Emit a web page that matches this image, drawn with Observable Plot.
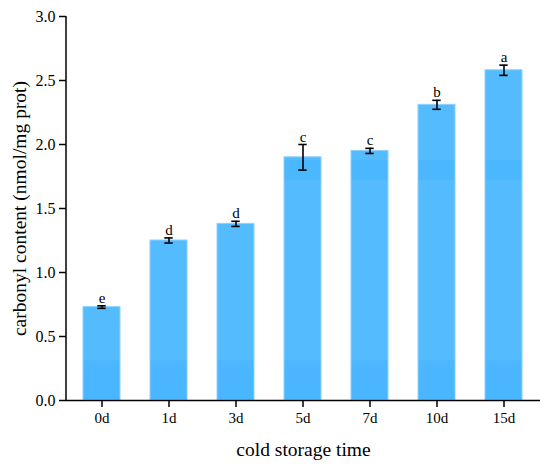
<!DOCTYPE html>
<html><head><meta charset="utf-8">
<script src="https://cdn.jsdelivr.net/npm/d3@7"></script>
<script src="https://cdn.jsdelivr.net/npm/@observablehq/plot@0.6"></script>
<style>body{margin:0;background:#fff}</style>
</head><body><div id="chart"></div>
<script>
const categories = ["0d","1d","3d","5d","7d","10d","15d"];
const values = [0.73,1.25,1.38,1.90,1.95,2.31,2.58];
const errors = [0.01,0.02,0.02,0.10,0.02,0.035,0.04];
const letters = ["e","d","d","c","c","b","a"];
const yTicks = [0,0.5,1.0,1.5,2.0,2.5,3.0];
const data = categories.map((c,i)=>({cat:c, value:values[i], err:errors[i], letter:letters[i]}));

function decor(index, scales, vals, dims) {
  const g = d3.create("svg:g");
  const top = dims.marginTop, bottom = dims.height - dims.marginBottom, left = dims.marginLeft;
  const grad = g.append("defs").append("linearGradient")
    .attr("id","barGrad").attr("gradientUnits","userSpaceOnUse")
    .attr("x1",0).attr("x2",0).attr("y1",top).attr("y2",bottom);
  const stops = [[0,"#54bbff"],[0.375,"#54bbff"],[0.375,"#4ab7ff"],[0.427,"#4ab7ff"],[0.427,"#54bbff"],
                 [0.896,"#54bbff"],[0.896,"#4db8ff"],[0.93,"#4ab6ff"],[1,"#4ab6ff"]];
  stops.forEach(([o,c]) => grad.append("stop").attr("offset",o).attr("stop-color",c));
  g.append("line").attr("x1",left).attr("x2",left).attr("y1",top).attr("y2",bottom+0.75)
    .attr("stroke","#000").attr("stroke-width",1.5);
  return g.node();
}

const chart = Plot.plot({
  width: 550,
  height: 469,
  marginLeft: 66,
  marginRight: 10,
  marginTop: 16,
  marginBottom: 69,
  style: {fontFamily: "'Liberation Serif', 'Times New Roman', serif", fontSize: "15px", color: "#000", background: "#fff"},
  x: {domain: categories, paddingInner: 0.445, paddingOuter: 0.2225, label: null},
  y: {domain: [0, 3], label: null},
  marks: [
    decor,
    Plot.barY(data, {x: "cat", y: "value", fill: "url(#barGrad)", stroke: "#8ed2ff", strokeWidth: 1}),
    Plot.ruleX(data, {x: "cat", y1: d => d.value - d.err, y2: d => d.value + d.err, stroke: "#000", strokeWidth: 1.6}),
    Plot.tickY(data, {x: "cat", y: d => d.value - d.err, stroke: "#000", strokeWidth: 1.6, inset: 14.3}),
    Plot.tickY(data, {x: "cat", y: d => d.value + d.err, stroke: "#000", strokeWidth: 1.6, inset: 14.3}),
    Plot.text(data, {x: "cat", y: d => d.value + d.err, text: "letter", dy: -3, lineAnchor: "bottom", fontSize: 15, fill: "#000"}),
    Plot.ruleY([0], {stroke: "#000", strokeWidth: 1.5}),
    Plot.axisY({ticks: yTicks, tickFormat: d3.format(".1f"), tickSize: 7, tickPadding: 4, fontSize: 16, strokeWidth: 1.5,
      label: "carbonyl content (nmol/mg prot)", labelAnchor: "center", labelOffset: 54, labelArrow: "none"}),
    Plot.axisX({tickSize: 7, tickPadding: 5, fontSize: 15, strokeWidth: 1.5,
      label: "cold storage time", labelAnchor: "center", labelOffset: 55, labelArrow: "none"})
  ]
});
const sel = d3.select(chart);
sel.selectAll("g[aria-label='y-axis tick label']").attr("font-size", 16).selectAll("text").attr("font-size", 16);
sel.selectAll("g[aria-label='x-axis tick label']").attr("font-size", 15).selectAll("text").attr("font-size", 15);
sel.selectAll("g[aria-label='y-axis tick'], g[aria-label='x-axis tick']").attr("stroke-width", 1.5);
sel.selectAll("g[aria-label='x-axis label'], g[aria-label='y-axis label']").attr("font-size", 19.5)
  .selectAll("text").attr("font-size", 19.5)
  .each(function(){ const t = d3.select(this); const s = t.text().replace(/\s*[↑→←↓]\s*/g, ""); if (t.selectAll("tspan").empty()) t.text(s); });
document.getElementById("chart").appendChild(chart);
</script>
</body></html>
